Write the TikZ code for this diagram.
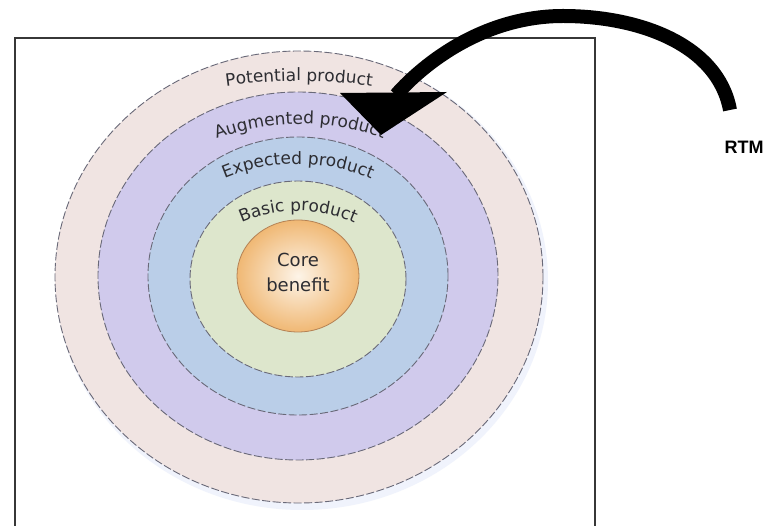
\documentclass[tikz,border=0pt]{standalone}
\usepackage{fontspec}
\setmainfont{DejaVu Sans}
\newfontfamily\rtmfont{Liberation Sans}
\usetikzlibrary{decorations.text}
\definecolor{potc}{RGB}{240,228,226}
\definecolor{augc}{RGB}{208,202,236}
\definecolor{expc}{RGB}{186,206,232}
\definecolor{basc}{RGB}{221,230,204}
\definecolor{corein}{RGB}{253,244,232}
\definecolor{coreout}{RGB}{240,184,116}
\definecolor{coreline}{RGB}{180,130,85}
\definecolor{ringline}{RGB}{105,105,120}
\definecolor{labelc}{RGB}{45,45,50}
\definecolor{boxc}{RGB}{55,55,55}
\definecolor{halo}{RGB}{240,243,252}
\newcommand\lblfont{\color{labelc}\fontsize{17}{17}\selectfont}
\begin{document}
\begin{tikzpicture}[x=1pt,y=1pt,
  ring/.style={draw=ringline, line width=0.9pt, dash pattern=on 8pt off 2.5pt},
  ringtext/.style={decorate, decoration={text along path, text align=center}},
  coretext/.style={anchor=base, text=labelc, font=\fontsize{18}{18}\selectfont, inner sep=0pt},
  arrowshaft/.style={draw=black, line width=14pt},
]
\useasboundingbox (0,0) rectangle (769,-526);
\fill[white] (0,0) rectangle (769,-526);
% frame
\draw[boxc, line width=2pt] (15,-526) -- (15,-38) -- (595,-38) -- (595,-526);
% soft halo
\fill[halo] (302,-281) ellipse [x radius=246pt, y radius=229pt];
% rings
\path[ring, fill=potc] (299,-277) ellipse [x radius=244pt, y radius=226pt];
\path[ring, fill=augc] (298,-276) ellipse [x radius=200pt, y radius=184pt];
\path[ring, fill=expc] (298,-276) ellipse [x radius=150pt, y radius=139pt];
\path[ring, fill=basc] (298,-279) ellipse [x radius=108pt, y radius=98pt];
\shade[inner color=corein, outer color=coreout, draw=coreline, line width=0.8pt]
  (298,-276) ellipse [x radius=61pt, y radius=56pt];
% ring labels
\path[ringtext, decoration={text={|\lblfont|Potential product}}, shift={(299,-611)}]
  (100:530pt) arc[start angle=100, end angle=80, radius=530pt];
\path[ringtext, decoration={text={|\lblfont|Augmented product}}, shift={(300,-364)}]
  (120:240pt) arc[start angle=120, end angle=60, radius=240pt];
\path[ringtext, decoration={text={|\lblfont|Expected product}}, shift={(298,-352)}]
  (125:188pt) arc[start angle=125, end angle=55, radius=188pt];
\path[ringtext, decoration={text={|\lblfont|Basic product}}, shift={(298,-351)}]
  (125:140pt) arc[start angle=125, end angle=55, radius=140pt];
% core
\node[coretext] (core) at (298,-267) {Core};
\node[coretext] (benefit) at (298,-292) {benefit};
% RTM
\node[anchor=base, inner sep=0pt, font=\rtmfont\bfseries\fontsize{18}{18}\selectfont] (rtm) at (744,-154) {RTM};
% arrow
\coordinate (tail) at (730,-110);
\coordinate (apex) at (563,-16);
\coordinate (headbase) at (396,-95);
\draw[arrowshaft] (tail) .. controls (718,-45) and (640,-16) .. (apex)
  .. controls (485,-16) and (425,-62) .. (headbase);
\coordinate (hl) at (340,-93);
\coordinate (hr) at (447,-92);
\coordinate (tip) at (381,-135);
\fill[black] (hl) -- (hr) -- (tip) -- cycle;
\end{tikzpicture}
\end{document}
